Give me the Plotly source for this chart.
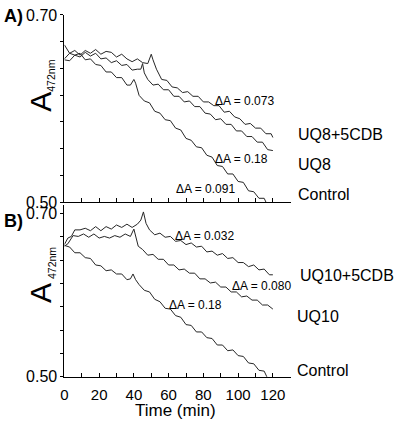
import plotly.graph_objects as go

# ---------------- data ----------------
# Panel A (UQ8)
a_t_uq8_5cdb = [0,3,6,9,12,15,18,21,24,27,30,33,36,39,42,45,48,50,51,53,56,59,62,65,68,71,74,77,80,83,86,89,92,95,98,101,104,107,110,113,116,119,120]
a_v_uq8_5cdb = [0.668,0.659,0.662,0.657,0.662,0.659,0.663,0.658,0.661,0.660,0.655,0.658,0.653,0.650,0.653,0.649,0.648,0.658,0.652,0.642,0.631,0.630,0.623,0.622,0.617,0.618,0.613,0.613,0.607,0.607,0.603,0.603,0.596,0.597,0.591,0.589,0.583,0.584,0.579,0.579,0.573,0.573,0.569]

a_t_uq8 = [0,3,6,9,12,15,18,21,24,27,30,33,36,39,42,44,45,46,48,51,54,57,60,63,66,69,72,75,78,81,84,87,90,93,96,99,102,105,108,111,114,117,120]
a_v_uq8 = [0.652,0.651,0.657,0.655,0.660,0.656,0.659,0.653,0.654,0.649,0.651,0.646,0.647,0.641,0.642,0.642,0.648,0.638,0.631,0.625,0.626,0.620,0.620,0.613,0.613,0.607,0.608,0.602,0.602,0.595,0.594,0.588,0.589,0.583,0.583,0.576,0.576,0.570,0.570,0.564,0.564,0.556,0.555]

a_t_ctrl = [0,3,6,9,12,15,18,21,24,27,30,33,36,38,40,41,43,46,49,52,55,58,61,64,67,70,73,76,79,82,85,88,91,94,97,100,103,106,109,112,115,117]
a_v_ctrl = [0.653,0.659,0.657,0.659,0.652,0.653,0.647,0.646,0.639,0.639,0.633,0.633,0.625,0.625,0.631,0.627,0.614,0.608,0.606,0.597,0.595,0.588,0.587,0.579,0.577,0.568,0.566,0.559,0.558,0.550,0.548,0.539,0.538,0.530,0.530,0.522,0.521,0.512,0.511,0.504,0.504,0.496]

# Panel B (UQ10)
b_t_uq10_5cdb = [0,2,4,6,9,12,15,18,21,24,27,30,33,36,39,42,44,45.5,47,49,52,55,58,61,64,67,70,73,76,79,82,85,88,91,94,97,100,103,106,109,112,115,118,120]
b_v_uq10_5cdb = [0.662,0.670,0.672,0.680,0.680,0.682,0.679,0.684,0.679,0.684,0.681,0.686,0.683,0.687,0.683,0.687,0.692,0.702,0.688,0.680,0.674,0.676,0.671,0.672,0.666,0.667,0.662,0.664,0.659,0.660,0.653,0.654,0.649,0.651,0.645,0.646,0.640,0.640,0.635,0.637,0.631,0.632,0.625,0.625]

b_t_uq10 = [0,2,5,8,11,14,17,20,23,26,29,32,35,38,40,41,42.5,45,48,51,54,57,60,63,66,69,72,75,78,81,84,87,90,93,96,99,102,105,108,111,114,117,120]
b_v_uq10 = [0.660,0.663,0.673,0.672,0.675,0.671,0.675,0.670,0.672,0.670,0.673,0.671,0.675,0.672,0.681,0.672,0.660,0.656,0.649,0.650,0.644,0.644,0.637,0.637,0.631,0.632,0.627,0.627,0.620,0.620,0.615,0.616,0.610,0.610,0.604,0.604,0.598,0.599,0.594,0.594,0.588,0.588,0.583]

b_t_ctrl = [0,3,6,9,12,15,18,21,24,27,30,33,36,38,39.5,41,43,46,49,52,55,58,61,64,67,70,73,76,79,82,85,88,91,94,97,100,103,106,109,112,115,117]
b_v_ctrl = [0.661,0.659,0.652,0.652,0.646,0.645,0.637,0.636,0.630,0.631,0.626,0.626,0.619,0.620,0.626,0.619,0.613,0.606,0.604,0.595,0.592,0.584,0.583,0.575,0.573,0.564,0.563,0.555,0.555,0.548,0.547,0.539,0.539,0.532,0.533,0.526,0.525,0.517,0.516,0.508,0.507,0.498]

x_tick_vals = [0,10,20,30,40,50,60,70,80,90,100,110,120]
x_tick_text = ["0","","20","","40","","60","","80","","100","","120"]
y_tick_vals = [round(0.5 + k * 0.2 / 7, 6) for k in range(8)]
y_tick_text = ["0.50","","","","","","","0.70"]

delta_a = ["ΔA = 0.073", "ΔA = 0.18", "ΔA = 0.091"]
delta_b = ["ΔA = 0.032", "ΔA = 0.080", "ΔA = 0.18"]
names_a = ["UQ8+5CDB", "UQ8", "Control"]
names_b = ["UQ10+5CDB", "UQ10", "Control"]

# ---------------- figure ----------------
W, H = 400, 431
FONT = "Liberation Sans, Arial, sans-serif"
LINE = dict(color="#262626", width=1)

fig = go.Figure()
for t, v, n in [(a_t_uq8_5cdb, a_v_uq8_5cdb, names_a[0]),
                (a_t_uq8, a_v_uq8, names_a[1]),
                (a_t_ctrl, a_v_ctrl, names_a[2])]:
    fig.add_trace(go.Scatter(x=t, y=v, mode="lines", line=LINE, name=n,
                             xaxis="x", yaxis="y", showlegend=False))
for t, v, n in [(b_t_uq10_5cdb, b_v_uq10_5cdb, names_b[0]),
                (b_t_uq10, b_v_uq10, names_b[1]),
                (b_t_ctrl, b_v_ctrl, names_b[2])]:
    fig.add_trace(go.Scatter(x=t, y=v, mode="lines", line=LINE, name=n,
                             xaxis="x2", yaxis="y2", showlegend=False))

def px(x):
    return x / W

def py(y):
    return 1 - y / H

xdom = [px(61), px(290)]
common_x = dict(domain=xdom, range=[0, 130.5], showline=True, linecolor="black",
                linewidth=1, ticks="inside", ticklen=4, tickcolor="black",
                tickvals=x_tick_vals, showgrid=False, zeroline=False,
                ticklabeloverflow="allow", ticklabelstandoff=4,
                tickfont=dict(family=FONT, size=15, color="black"))
common_y = dict(showline=True, linecolor="black", linewidth=1, ticks="outside",
                ticklen=3, tickcolor="black", tickvals=y_tick_vals,
                ticktext=y_tick_text, showgrid=False, zeroline=False,
                ticklabeloverflow="allow",
                tickfont=dict(family=FONT, size=16, color="black"))

fig.update_layout(
    width=W, height=H,
    margin=dict(l=0, r=0, t=0, b=0),
    paper_bgcolor="white", plot_bgcolor="white",
    xaxis=dict(common_x, anchor="y", showticklabels=False),
    yaxis=dict(common_y, anchor="x", domain=[py(202), py(7)], range=[0.5, 0.7002]),
    xaxis2=dict(common_x, anchor="y2", ticktext=x_tick_text),
    yaxis2=dict(common_y, anchor="x2", domain=[py(384), py(205.5)], range=[0.5, 0.71]),
)

ann = []
def text(x, y, s, size, anchor="center", bold=False, angle=0):
    ann.append(dict(x=px(x), y=py(y), xref="paper", yref="paper", text=(f"<b>{s}</b>" if bold else s),
                    showarrow=False, xanchor=anchor, yanchor="middle", textangle=angle,
                    font=dict(family=FONT, size=size, color="black")))

text(10, 8, "A)", 18, bold=True)
text(10, 222, "B)", 18, bold=True)

# y axis titles
text(37, 98, "A", 30, angle=-90)
text(48, 71, "472nm", 10.5, angle=-90)
text(37, 297, "A", 30, angle=-90)
text(48, 266, "472nm", 10.5, angle=-90)

text(173, 419, "Time (min)", 17)

# series labels
text(295, 132, names_a[0], 16, anchor="left")
text(295, 163, names_a[1], 16, anchor="left")
text(295, 194, names_a[2], 16, anchor="left")
text(297, 278, names_b[0], 16, anchor="left")
text(294, 321, names_b[1], 16, anchor="left")
text(294, 377, names_b[2], 16, anchor="left")

# delta labels
text(211, 97, delta_a[0], 12, anchor="left")
text(211, 157, delta_a[1], 12, anchor="left")
text(172, 188, delta_a[2], 12, anchor="left")
text(171, 237.5, delta_b[0], 12, anchor="left")
text(228, 289, delta_b[1], 12, anchor="left")
text(165, 309, delta_b[2], 12, anchor="left")

fig.update_layout(annotations=ann)
fig.write_html("out.html", config={"displayModeBar": False},
               post_script="document.body.style.margin='0';document.body.style.overflow='hidden';")
